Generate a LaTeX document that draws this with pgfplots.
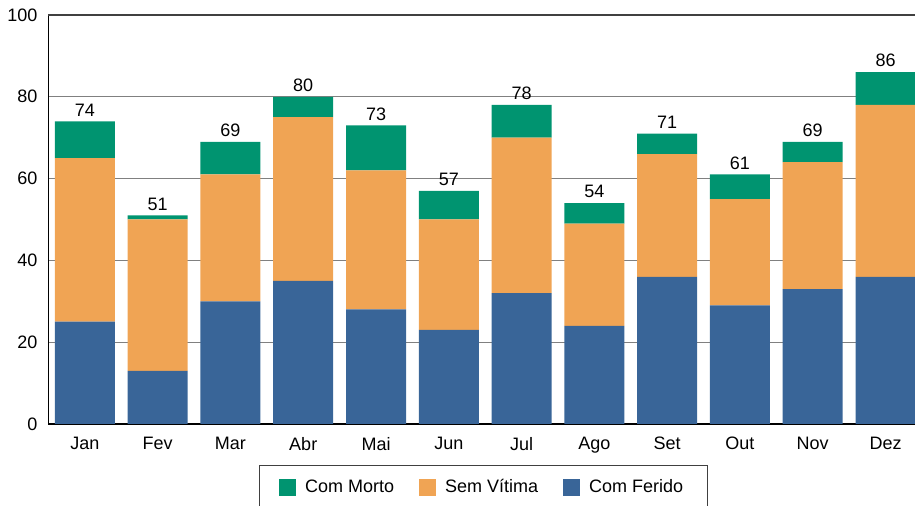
\documentclass[border=0pt]{standalone}
\usepackage{fontspec}
\setmainfont{Liberation Sans}
\usepackage{pgfplots}
\usepackage{pgfplotstable}
\pgfplotsset{compat=1.18}
\definecolor{cmorto}{RGB}{0,148,112}
\definecolor{csemvit}{RGB}{240,164,84}
\definecolor{cferido}{RGB}{57,101,152}

% acidentes por mes: com ferido / sem vitima / com morto / total
\pgfplotstableread{
x ferido semvit morto total
0  25 40 9 74
1  13 37 1 51
2  30 31 8 69
3  35 40 5 80
4  28 34 11 73
5  23 27 7 57
6  32 38 8 78
7  24 25 5 54
8  36 30 5 71
9  29 26 6 61
10 33 31 5 69
11 36 42 8 86
}\dados

\begin{document}
\begin{tikzpicture}
\begin{axis}[
    at={(0,0)}, anchor=south west,
    width=433.25pt, height=204.5pt, scale only axis,
    ybar stacked,
    bar width=30pt,
    xmin=-0.5, xmax=11.405,
    ymin=0, ymax=100,
    xtick=data,
    xticklabels={Jan,Fev,Mar,Abr,Mai,Jun,Jul,Ago,Set,Out,Nov,Dez},
    ytick={0,20,40,60,80},
    extra y ticks={100},
    extra y tick style={grid style={draw=black!75, line width=1pt}},
    ymajorgrids,
    grid style={draw=black!50, line width=0.65pt},
    major tick length=0pt,
    axis x line*=bottom,
    axis y line*=left,
    axis line style={-, black, line width=0.8pt},
    tick label style={font=\fontsize{9}{10}\selectfont},
    /pgf/number format/assume math mode=true,
    yticklabel style={xshift=-2pt},
    xticklabel style={yshift=-3pt},
    reverse legend,
    legend columns=3,
    legend style={
        at={(0.5017,-0.0995)}, anchor=north,
        draw=black!75, line width=0.6pt,
        font=\fontsize{9}{10}\selectfont,
        inner xsep=10pt, inner ysep=5pt,
        /tikz/every odd column/.append style={column sep=2.5pt},
        /tikz/every even column/.append style={column sep=10.5pt},
    },
    legend image code/.code={\fill[#1] (0pt,-4.25pt) rectangle (8.5pt,4.25pt);},
]
\addplot[fill=cferido, draw=none] table[x=x, y=ferido] {\dados};
\addplot[fill=csemvit, draw=none] table[x=x, y=semvit] {\dados};
\addplot[fill=cmorto, draw=none] table[x=x, y=morto] {\dados};
\legend{Com Ferido, Sem Vítima, Com Morto}
% totais sobre as barras (segmento de altura quase nula no topo)
\addplot[draw=none, fill=none, forget plot,
    point meta=explicit,
    nodes near coords,
    nodes near coords style={font=\fontsize{9}{10}\selectfont, anchor=south, black, yshift=-1pt},
] table[x=x, y expr=0.01, meta=total] {\dados};
\end{axis}
\pgfresetboundingbox
\useasboundingbox (-24.25pt,-41pt) rectangle (433.25pt,212pt);
\end{tikzpicture}
\end{document}
